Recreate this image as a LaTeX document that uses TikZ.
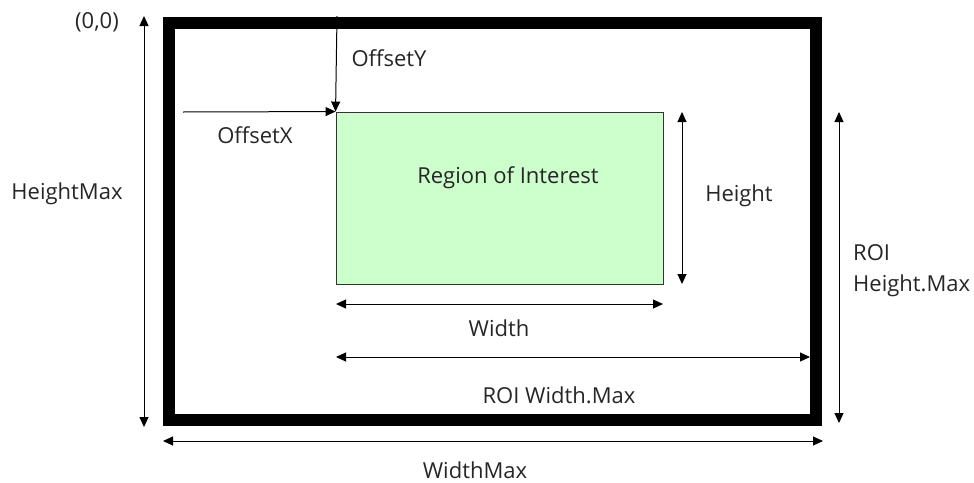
\documentclass[tikz,border=0pt]{standalone}
\usepackage{fontspec}
\setmainfont{Open Sans}
\usetikzlibrary{arrows.meta}
\begin{document}
\begin{tikzpicture}[x=1pt,y=-1pt,
  lbl/.style={font=\fontsize{22}{31}\selectfont, text=black!85, inner sep=0pt, anchor=base},
  dim/.style={line width=1pt, {Triangle[length=10pt,width=9pt]}-{Triangle[length=10pt,width=9pt]}},
  onearrow/.style={line width=1pt, -{Triangle[length=10pt,width=9pt]}},
  frame/.style={draw=black, line width=12pt},
  roi/.style={draw=black!80, line width=0.9pt, fill=green!20}]
\useasboundingbox (0,0) rectangle (974,482);
% frame
\draw[frame] (169,22.5) rectangle (816,419.5);
% ROI
\node[roi, minimum width=327pt, minimum height=172pt, inner sep=0pt] (roi) at (499.5,198) {};
\node[lbl] (roitext) at (508,183) {Region of Interest};
% coordinates
\coordinate (hmT) at (144,16);
\coordinate (hmB) at (144,427);
\coordinate (oyT) at (337,16);
\coordinate (oxL) at (183,112);
\coordinate (hT) at (682,112);
\coordinate (hB) at (682,284);
\coordinate (wL) at (336,304);
\coordinate (wR) at (663,304);
\coordinate (rwL) at (336,357);
\coordinate (rwR) at (810,357);
\coordinate (rhT) at (839,112);
\coordinate (rhB) at (839,423);
\coordinate (wmL) at (163,441);
\coordinate (wmR) at (823,441);
% arrows
\draw[dim] (hmT) -- (hmB);
\draw[onearrow] (oyT) -- (roi.north west);
\draw[onearrow] (oxL) -- (roi.north west);
\draw[dim] (hT) -- (hB);
\draw[dim] (wL) -- (wR);
\draw[dim] (rwL) -- (rwR);
\draw[dim] (rhT) -- (rhB);
\draw[dim] (wmL) -- (wmR);
% labels
\node[lbl] (origin) at (97,28) {(0,0)};
\node[lbl] (hmlab) at (67,199) {HeightMax};
\node[lbl] (oylab) at (389,66) {OffsetY};
\node[lbl] (oxlab) at (255,143) {OffsetX};
\node[lbl] (hlab) at (739,201) {Height};
\node[lbl] (wlab) at (499,336) {Width};
\node[lbl] (rwlab) at (559,403) {ROI Width.Max};
\node[lbl, anchor=base west] (rhlab1) at (853,260) {ROI};
\node[lbl, anchor=base west] (rhlab2) at (853,291) {Height.Max};
\node[lbl] (wmlab) at (475,478) {WidthMax};
\end{tikzpicture}
\end{document}
